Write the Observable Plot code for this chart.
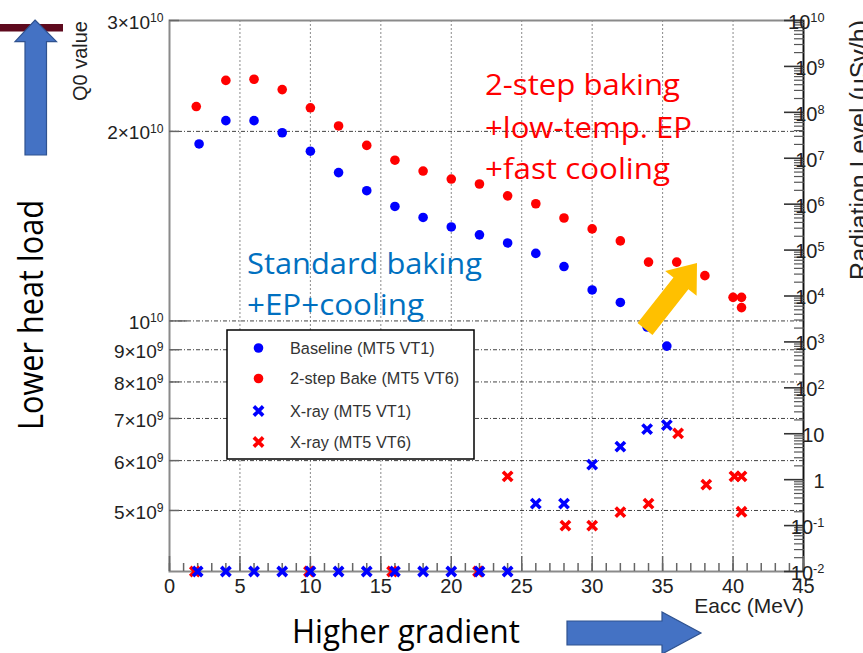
<!DOCTYPE html>
<html>
<head>
<meta charset="utf-8">
<script src="https://cdn.jsdelivr.net/npm/d3@7"></script>
<script src="https://cdn.jsdelivr.net/npm/@observablehq/plot@0.6"></script>
<style>
  html, body { margin: 0; padding: 0; background: #fff; }
  #wrap { position: relative; width: 863px; height: 653px; overflow: hidden; }
  #wrap > svg { position: absolute; left: 0; top: 0; }
</style>
</head>
<body>
<div id="wrap"></div>
<script>
// ---------------- data ----------------
const eaccBaseline = [2.1, 4, 6, 8, 10, 12, 14, 16, 18, 20, 22, 24, 26, 28, 30, 32, 33.9, 35.3];
const q0Baseline   = [1.91e10, 2.08e10, 2.08e10, 1.99e10, 1.86e10, 1.72e10, 1.61e10, 1.52e10, 1.46e10, 1.41e10, 1.37e10, 1.33e10, 1.28e10, 1.22e10, 1.12e10, 1.07e10, 9.78e9, 9.12e9];

const eaccBake = [1.9, 4, 6, 8, 10, 12, 14, 16, 18, 20, 22, 24, 26, 28, 30, 32, 34, 36, 38, 40, 40.6, 40.6];
const q0Bake   = [2.19e10, 2.41e10, 2.42e10, 2.33e10, 2.18e10, 2.04e10, 1.90e10, 1.80e10, 1.73e10, 1.68e10, 1.65e10, 1.58e10, 1.535e10, 1.457e10, 1.40e10, 1.34e10, 1.24e10, 1.24e10, 1.18e10, 1.09e10, 1.09e10, 1.05e10];

const eaccXrayVT1 = [2, 4, 6, 8, 10, 12, 14, 16, 18, 20, 22, 24, 26, 28, 30, 32, 33.9, 35.3];
const radXrayVT1  = [0.01, 0.01, 0.01, 0.01, 0.01, 0.01, 0.01, 0.01, 0.01, 0.01, 0.01, 0.01, 0.30, 0.30, 2.12, 5.24, 12.6, 15.4];

const eaccXrayVT6 = [1.8, 9.9, 15.8, 21.9, 24, 28.1, 30, 32, 34, 36.1, 38.1, 40.1, 40.6, 40.6];
const radXrayVT6  = [0.01, 0.01, 0.01, 0.01, 1.18, 0.10, 0.10, 0.196, 0.30, 10.2, 0.78, 1.18, 1.18, 0.20];

const xTicks      = [0, 5, 10, 15, 20, 25, 30, 35, 40, 45];
const xMinorTicks = d3.range(0, 46, 1);
const q0Ticks     = [5e9, 6e9, 7e9, 8e9, 9e9, 1e10, 2e10, 3e10];
const q0Labels    = ["5×10^9", "6×10^9", "7×10^9", "8×10^9", "9×10^9", "10^10", "2×10^10", "3×10^10"];
const q0Grid      = [5e9, 6e9, 7e9, 8e9, 9e9, 1e10, 2e10];
const xGrid       = [5, 10, 15, 20, 25, 30, 35, 40];
const radTicks    = [1e-2, 1e-1, 1, 10, 1e2, 1e3, 1e4, 1e5, 1e6, 1e7, 1e8, 1e9, 1e10];
const radLabels   = ["10^-2", "10^-1", "1", "10", "10^2", "10^3", "10^4", "10^5", "10^6", "10^7", "10^8", "10^9", "10^10"];
const radMinor    = d3.range(-2, 10).flatMap(k => d3.range(2, 10).map(m => m * Math.pow(10, k)));

const legendNames = ["Baseline (MT5 VT1)", "2-step Bake (MT5 VT6)", "X-ray (MT5 VT1)", "X-ray (MT5 VT6)"];

// ---------------- scales ----------------
const Q_MIN = 4e9, Q_MAX = 3e10, R_MIN = 1e-2, R_MAX = 1e10;
// map radiation level (right axis, log) onto the Q0 (left axis, log) scale
const toQ = r => Q_MIN * Math.pow(Q_MAX / Q_MIN, (Math.log10(r) - Math.log10(R_MIN)) / (Math.log10(R_MAX) - Math.log10(R_MIN)));

const BLUE = "#0000ff", RED = "#ff0000";
const baseline = eaccBaseline.map((x, i) => ({x, q: q0Baseline[i]}));
const bake = eaccBake.map((x, i) => ({x, q: q0Bake[i]}));
const xr1 = eaccXrayVT1.map((x, i) => ({x, r: radXrayVT1[i]}));
const xr6 = eaccXrayVT6.map((x, i) => ({x, r: radXrayVT6[i]}));

const W = 863, H = 653;
const chart = Plot.plot({
  width: W, height: H,
  marginLeft: 169, marginRight: 60, marginTop: 20, marginBottom: 82,
  x: {domain: [0, 45]},
  y: {type: "log", domain: [Q_MIN, Q_MAX]},
  style: {fontFamily: "'Liberation Sans', Arial, sans-serif", background: "transparent", color: "#222"},
  marks: [
    Plot.ruleX(xGrid, {stroke: "#8a8a8a", strokeDasharray: "2,2", strokeWidth: 1}),
    Plot.ruleY(q0Grid, {stroke: "#444", strokeDasharray: "4,2,1,2", strokeWidth: 1}),
    Plot.frame({stroke: "#8a8a8a", strokeWidth: 2}),
    Plot.ruleX([45], {stroke: "#111", strokeWidth: 1.6}),
    // x ticks
    Plot.axisX(xTicks, {tickSize: -15, tickFormat: () => "", label: null, stroke: "#666", strokeWidth: 1.5}),
    Plot.axisX(xMinorTicks, {tickSize: -8, tickFormat: () => "", label: null, stroke: "#666", strokeWidth: 1.5}),
    Plot.text(xTicks, {x: d => d, frameAnchor: "bottom", lineAnchor: "top", dy: 7, text: d => String(d), fontSize: 20, fill: "#222"}),
    // left axis ticks & labels
    Plot.axisY([1e10], {tickSize: -18, tickFormat: () => "", label: null, stroke: "#666", strokeWidth: 1.5}),
    Plot.axisY(q0Ticks.filter(d => d !== 1e10), {tickSize: -10, tickFormat: () => "", label: null, stroke: "#666", strokeWidth: 1.5}),
    Plot.text(q0Ticks, {y: d => d, frameAnchor: "left", textAnchor: "end", dx: -6, dy: 2, text: (d, i) => q0Labels[i], fontSize: 19, fill: "#222"}),
    // right axis ticks & labels
    Plot.axisY(radTicks.map(toQ), {anchor: "right", tickSize: -20, tickFormat: () => "", label: null, stroke: "#333", strokeWidth: 1.6}),
    Plot.axisY(radMinor.map(toQ), {anchor: "right", tickSize: -10, tickFormat: () => "", label: null, stroke: "#555", strokeWidth: 1.2}),
    Plot.text(radTicks, {y: d => toQ(d), frameAnchor: "right", textAnchor: "end", dx: 21, dy: 2, text: (d, i) => radLabels[i], fontSize: 20, fill: "#222"}),
    // data
    Plot.dot(baseline, {x: "x", y: "q", r: 4.8, fill: BLUE}),
    Plot.dot(bake, {x: "x", y: "q", r: 4.8, fill: RED}),
    Plot.dot(xr6, {x: "x", y: d => toQ(d.r), symbol: "times", r: 4.3, stroke: RED, strokeWidth: 3.6}),
    Plot.dot(xr1, {x: "x", y: d => toQ(d.r), symbol: "times", r: 4.3, stroke: BLUE, strokeWidth: 3.6})
  ]
});
document.getElementById("wrap").appendChild(chart);

const NS = "http://www.w3.org/2000/svg";
function supify(root) {
  root.querySelectorAll("text").forEach(t => {
    const s = t.textContent;
    if (!s.includes("^")) return;
    const [base, exp] = s.split("^");
    while (t.firstChild) t.removeChild(t.firstChild);
    const a = document.createElementNS(NS, "tspan"); a.textContent = base; t.appendChild(a);
    const b = document.createElementNS(NS, "tspan"); b.textContent = exp;
    b.setAttribute("dy", "-0.55em"); b.setAttribute("font-size", "0.64em"); t.appendChild(b);
  });
}
supify(chart);

// ---------------- overlay: titles, legend, annotations ----------------
const ov = document.createElementNS(NS, "svg");
ov.setAttribute("width", W); ov.setAttribute("height", H);
document.getElementById("wrap").appendChild(ov);
function el(tag, attrs, text) {
  const e = document.createElementNS(NS, tag);
  for (const k in attrs) e.setAttribute(k, attrs[k]);
  if (text != null) e.textContent = text;
  ov.appendChild(e);
  return e;
}
const HELV = "'Liberation Sans', Arial, sans-serif";
const CALI = "'Open Sans', Lato, sans-serif";

// axis titles
el("text", {transform: "translate(87,21) rotate(-90)", "text-anchor": "end", "font-family": HELV, "font-size": 20, fill: "#222"}, "Q0 value");
el("text", {transform: "translate(868,20) rotate(-90)", "text-anchor": "end", "font-family": HELV, "font-size": 25, fill: "#222"}, "Radiation Level (uSv/h)");
el("text", {x: 804, y: 613, "text-anchor": "end", "font-family": HELV, "font-size": 21, fill: "#222"}, "Eacc (MeV)");

// legend
el("rect", {x: 227, y: 330, width: 247, height: 129, fill: "#fff", stroke: "#000", "stroke-width": 1.5});
const legY = [348, 378.5, 411, 442];
const legColor = [BLUE, RED, BLUE, RED];
legendNames.forEach((name, i) => {
  if (i < 2) el("circle", {cx: 258.5, cy: legY[i], r: 4.8, fill: legColor[i]});
  else el("path", {d: d3.symbol(d3.symbolTimes, Math.PI * 4.3 * 4.3)(), transform: `translate(258.5,${legY[i]})`, fill: "none", stroke: legColor[i], "stroke-width": 3.6});
  el("text", {x: 290, y: legY[i], dy: "0.35em", "font-family": HELV, "font-size": 16.3, fill: "#333"}, name);
});

// annotation texts
const redLines = [["2-step baking", 95, 195], ["+low-temp. EP", 137.5, 207], ["+fast cooling", 179, 185]];
redLines.forEach(([t, y, len]) => el("text", {x: 485, y, "font-family": CALI, "font-size": 30, fill: "#ff0000", textLength: len, lengthAdjust: "spacingAndGlyphs"}, t));
const blueLines = [["Standard baking", 273.5, 235], ["+EP+cooling", 315, 177]];
blueLines.forEach(([t, y, len]) => el("text", {x: 247, y, "font-family": CALI, "font-size": 30, fill: "#0070c0", textLength: len, lengthAdjust: "spacingAndGlyphs"}, t));

el("text", {transform: "translate(43,430) rotate(-90)", "font-family": CALI, "font-size": 34, fill: "#000", textLength: 230, lengthAdjust: "spacingAndGlyphs"}, "Lower heat load");
el("text", {x: 292, y: 643, "font-family": CALI, "font-size": 32, fill: "#000", textLength: 228, lengthAdjust: "spacingAndGlyphs"}, "Higher gradient");

// decorative shapes
el("rect", {x: 0, y: 24, width: 63, height: 7.5, fill: "#5e0a1e"});
el("polygon", {points: "35,20 56.5,41.7 46.5,41.7 46.5,155 25,155 25,41.7 15,41.7", fill: "#4472c4", stroke: "#2f528f", "stroke-width": 1.2});
el("polygon", {points: "567,621 662,621 662,612 701,633 662,654 662,645 567,645", fill: "#4472c4", stroke: "#2f528f", "stroke-width": 1.2});

// orange arrow
(function () {
  const sx = 645, sy = 329, tx = 697, ty = 263, hw = 9.5, headL = 26, headW = 20;
  const L = Math.hypot(tx - sx, ty - sy), dx = (tx - sx) / L, dy = (ty - sy) / L, nx = -dy, ny = dx;
  const bx = tx - headL * dx, by = ty - headL * dy;
  const pts = [[sx + hw * nx, sy + hw * ny], [bx + hw * nx, by + hw * ny], [bx + headW * nx, by + headW * ny], [tx, ty],
               [bx - headW * nx, by - headW * ny], [bx - hw * nx, by - hw * ny], [sx - hw * nx, sy - hw * ny]];
  el("polygon", {points: pts.map(p => p.join(",")).join(" "), fill: "#ffc000"});
})();
</script>
</body>
</html>
